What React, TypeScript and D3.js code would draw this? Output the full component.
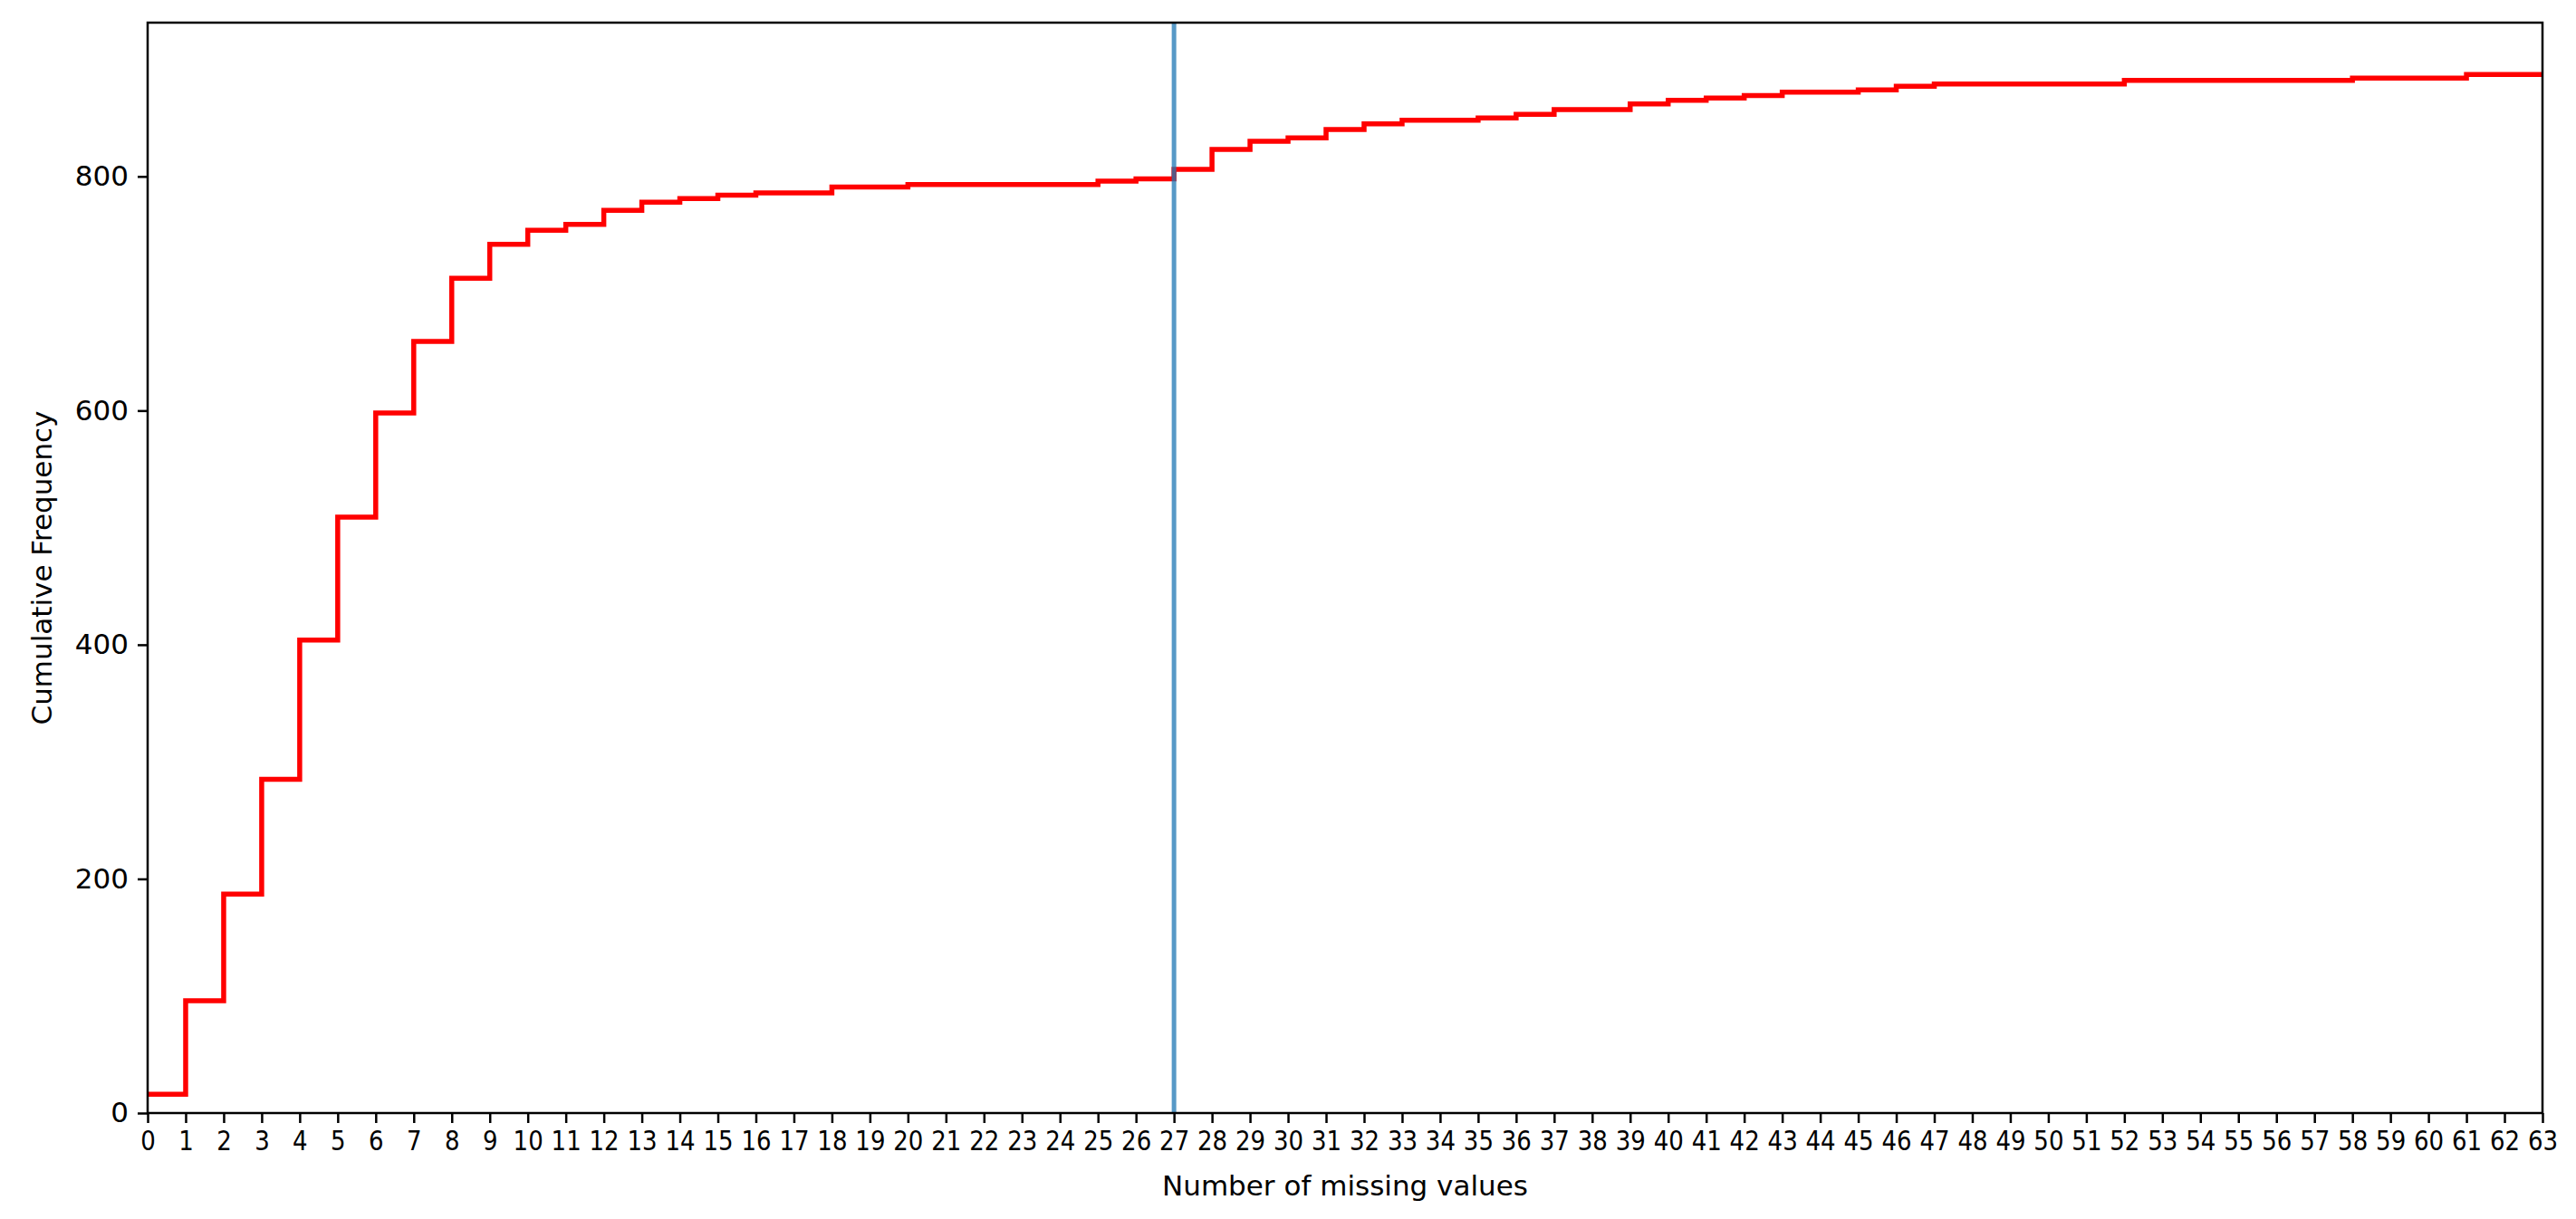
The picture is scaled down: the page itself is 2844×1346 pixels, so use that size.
import React, { useEffect, useRef } from 'react';
import * as d3 from 'd3';

// cumulative count of rows per number of missing values (bin i covers [i, i+1))
const bins = d3.range(0, 63);
const cumulative = [
  16, 96, 187, 285, 404, 509, 598, 659, 713, 742,
  754, 759, 771, 778, 781, 784, 786, 786, 791, 791,
  793, 793, 793, 793, 793, 796, 798, 806, 823, 830,
  833, 840, 845, 848, 848, 850, 853, 857, 857, 862,
  865, 867, 869, 872, 872, 874, 877, 879, 879, 879,
  879, 879, 882, 882, 882, 882, 882, 882, 884, 884,
  884, 887, 887,
];
const xTicks = d3.range(0, 64);
const yTicks = [0, 200, 400, 600, 800];
const cutoff = 27;

const width = 2844;
const height = 1346;
const margin = { top: 25, right: 37, bottom: 117, left: 163 };
const font = '"DejaVu Sans", sans-serif';

function App() {
  const ref = useRef<SVGSVGElement>(null);

  useEffect(() => {
    const svg = d3.select(ref.current);
    svg.selectAll('*').remove();

    const w = width - margin.left - margin.right;
    const h = height - margin.top - margin.bottom;

    const x = d3.scaleLinear().domain([0, 63]).range([0, w]);
    const y = d3.scaleLinear().domain([0, d3.max(cumulative)! * 1.05]).range([h, 0]);

    const g = svg.append('g')
      .attr('transform', 'translate(' + margin.left + ',' + margin.top + ')');

    // step outline; the rise at 0 and the drop at 63 sit under the spines
    const pts: [number, number][] = bins.map((b, i) => [b, cumulative[i]]);
    pts.push([63, cumulative[cumulative.length - 1]]);

    const line = d3.line<[number, number]>()
      .x(d => x(d[0]))
      .y(d => y(d[1]))
      .curve(d3.curveStepAfter);

    g.append('path')
      .datum(pts)
      .attr('d', line)
      .attr('fill', 'none')
      .attr('stroke', '#ff0000')
      .attr('stroke-width', 5.5)
      .attr('stroke-linejoin', 'miter');

    g.append('line')
      .attr('x1', x(cutoff)).attr('x2', x(cutoff))
      .attr('y1', 0).attr('y2', h)
      .attr('stroke', '#1f77b4')
      .attr('stroke-opacity', 0.75)
      .attr('stroke-width', 5);

    const xAxis = g.append('g')
      .attr('transform', 'translate(0,' + h + ')')
      .call(d3.axisBottom(x).tickValues(xTicks).tickFormat(d3.format('d')).tickSize(11).tickPadding(8));

    const yAxis = g.append('g')
      .call(d3.axisLeft(y).tickValues(yTicks).tickFormat(d3.format('d')).tickSize(11).tickPadding(10));

    [xAxis, yAxis].forEach(a => {
      a.select('.domain').remove();
      a.selectAll('line').attr('stroke', '#000').attr('stroke-width', 2.5);
      a.selectAll('text')
        .attr('font-family', font)
        .attr('font-size', 31)
        .attr('fill', '#000');
    });
    // the x labels in the picture are a bit narrower
    xAxis.selectAll('text').attr('transform', 'scale(0.84,1)');

    // frame
    g.append('rect')
      .attr('x', 0).attr('y', 0)
      .attr('width', w).attr('height', h)
      .attr('fill', 'none')
      .attr('stroke', '#000')
      .attr('stroke-width', 2.5);

    g.append('text')
      .attr('x', w / 2)
      .attr('y', h + 91)
      .attr('text-anchor', 'middle')
      .attr('font-family', font)
      .attr('font-size', 31)
      .text('Number of missing values');

    g.append('text')
      .attr('transform', 'translate(' + (57 - margin.left) + ',' + h / 2 + ') rotate(-90)')
      .attr('text-anchor', 'middle')
      .attr('font-family', font)
      .attr('font-size', 31)
      .text('Cumulative Frequency');
  }, []);

  return (
    <svg
      ref={ref}
      width={width}
      height={height}
      style={{ position: 'absolute', left: 0, top: 0, background: '#fff' }}
    />
  );
}

export default App;
